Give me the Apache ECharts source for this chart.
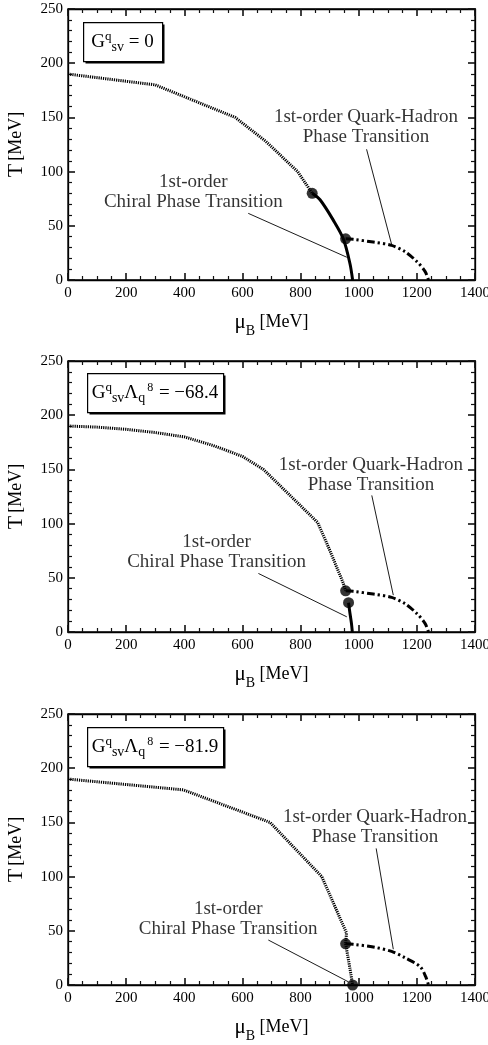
<!DOCTYPE html>
<html>
<head>
<meta charset="utf-8">
<script src="https://cdn.jsdelivr.net/npm/echarts@6/dist/echarts.min.js"></script>
<style>
  html, body { margin: 0; padding: 0; background: #fff; }
  #chart { width: 488px; height: 1045px; background: #fff; }
</style>
</head>
<body>
<div id="chart"></div>
<script>
// Axis ranges and tick steps
const muRange = [0, 1400];
const muStep = 200;
const muMinorSplit = 4;
const tRange = [0, 250];
const tStep = 50;
const tMinorSplit = 5;

// Panel 1: G_sv = 0
const p1Crossover = [[0,190],[300,180],[575,150],[680,128],[790,100],[840,80]];
const p1Chiral = [[840,80],[867,74],[913,55],[947,38],[970,15],[979,0]];
const p1ChiralCrossover = [];
const p1QuarkHadron = [[955,38],[981,37.5],[1050,35],[1113,32],[1160,26],[1200,17],[1228,8],[1240,0]];
const p1Points = [[840,80],[955,38]];

// Panel 2: G_sv Λ^8 = -68.4
const p2Crossover = [[0,190],[100,189],[200,187],[300,184],[400,180],[500,172],[600,162],[672,150],[760,127],[859,101],[901,75],[947,45],[955,38]];
const p2Chiral = [[965,27],[970,17],[975,8],[978,0]];
const p2ChiralCrossover = [];
const p2QuarkHadron = [[955,38],[981,37.5],[1050,35],[1113,32],[1160,26],[1200,17],[1228,8],[1240,0]];
const p2Points = [[955,38],[965,27]];

// Panel 3: G_sv Λ^8 = -81.9
const p3Crossover = [[0,190],[397,180],[695,150],[873,100],[958,48],[955,38]];
const p3Chiral = [];
const p3ChiralCrossover = [[955,38],[970,15],[979,0]];
const p3QuarkHadron = [[955,38],[981,37.5],[1050,35],[1113,31],[1160,25],[1211,17],[1230,8],[1240,0]];
const p3Points = [[955,38],[979,0]];

// Annotation anchors (text centre, arrow start, arrow end) in data units
const qhLabelPos = [[1025,141],[1042,145],[1056,145.5]];
const qhArrows = [[[1027,120.6],[1113,33]], [[1045,126],[1119,34]], [[1060,126],[1119,33]]];
const chiralLabelPos = [[431,81],[511,73.4],[551,60.9]];
const chiralArrows = [[[620,61.5],[959,21]], [[655,54],[959,14]], [[689,41.5],[964,3]]];

// Coupling labels (rich text markup)
const couplingLabels = [
  '{g|G}{sup|q}{sub|sv}{g| = 0}',
  '{g|G}{sup|q}{sub|sv}{g|Λ}{sub|q}{sup2|8}{g| = −68.4}',
  '{g|G}{sup|q}{sub|sv}{g|Λ}{sub|q}{sup2|8}{g| = −81.9}'
];

const panels = [
  { cross: p1Crossover, chiral: p1Chiral, chiralX: p1ChiralCrossover, qh: p1QuarkHadron, pts: p1Points },
  { cross: p2Crossover, chiral: p2Chiral, chiralX: p2ChiralCrossover, qh: p2QuarkHadron, pts: p2Points },
  { cross: p3Crossover, chiral: p3Chiral, chiralX: p3ChiralCrossover, qh: p3QuarkHadron, pts: p3Points }
];

const FONT = "'Liberation Serif', 'Times New Roman', serif";
const INK = '#000';
const gridTops = [9, 361, 714];
const GRID_LEFT = 68, GRID_W = 407, GRID_H = 271;

// fresh axis object with inward major and minor ticks
function frameAxis(position, gridIndex, range, step, minorSplit, extra) {
  return Object.assign({
    type: 'value', gridIndex: gridIndex, position: position,
    min: range[0], max: range[1], interval: step,
    axisLine: { show: true, onZero: false, lineStyle: { color: INK, width: 1.3 } },
    axisTick: { show: true, inside: true, length: 7, lineStyle: { color: '#111', width: 1.6 } },
    minorTick: { show: true, splitNumber: minorSplit, length: 4, lineStyle: { color: '#111', width: 1.2 } },
    splitLine: { show: false },
    axisLabel: { show: false }
  }, extra || {});
}

const chart = echarts.init(document.getElementById('chart'));

const grids = [], xAxes = [], yAxes = [], series = [], graphics = [];

panels.forEach((p, i) => {
  grids.push({ left: GRID_LEFT, top: gridTops[i], width: GRID_W, height: GRID_H, show: true,
    outerBoundsMode: 'none', borderColor: INK, borderWidth: 1.3 });

  xAxes.push(frameAxis('bottom', i, muRange, muStep, muMinorSplit, {
    axisLabel: { show: true, color: INK, fontFamily: FONT, fontSize: 15, margin: 6,
      formatter: function (v) { return String(v); } },
    name: '{m|μ}{s|B}{n| [MeV]}', nameLocation: 'middle', nameGap: 30,
    nameTextStyle: { color: INK, fontFamily: FONT,
      rich: {
        m: { fontFamily: FONT, fontSize: 21, color: INK, lineHeight: 24 },
        s: { fontFamily: FONT, fontSize: 14, color: INK, verticalAlign: 'bottom', lineHeight: 14, padding: [0,0,-4,0] },
        n: { fontFamily: FONT, fontSize: 18, color: INK, lineHeight: 24 }
      } }
  }));
  xAxes.push(frameAxis('top', i, muRange, muStep, muMinorSplit));

  yAxes.push(frameAxis('left', i, tRange, tStep, tMinorSplit, {
    axisLabel: { show: true, color: INK, fontFamily: FONT, fontSize: 15, margin: 5 },
    name: '{t|T} {n|[MeV]}', nameLocation: 'middle', nameGap: 41,
    nameTextStyle: { color: INK, fontFamily: FONT,
      rich: {
        t: { fontFamily: FONT, fontSize: 22, color: INK },
        n: { fontFamily: FONT, fontSize: 18, color: INK }
      } }
  }));
  yAxes.push(frameAxis('right', i, tRange, tStep, tMinorSplit));

  const xi = i * 2, yi = i * 2;
  const lineBase = { type: 'line', xAxisIndex: xi, yAxisIndex: yi, symbol: 'none', silent: true };

  series.push(Object.assign({}, lineBase, {
    data: p.cross, lineStyle: { color: INK, width: 3, type: [1.2, 1] }
  }));
  if (p.chiralX.length) {
    series.push(Object.assign({}, lineBase, {
      data: p.chiralX, lineStyle: { color: INK, width: 3, type: [1.2, 1] }
    }));
  }
  if (p.chiral.length) {
    series.push(Object.assign({}, lineBase, {
      data: p.chiral, smooth: 0.3, lineStyle: { color: INK, width: 3, type: 'solid' }
    }));
  }
  series.push(Object.assign({}, lineBase, {
    data: p.qh, smooth: 0.3, lineStyle: { color: INK, width: 3, type: [8, 3, 2.2, 3, 2.2, 3] }
  }));
  series.push({
    type: 'scatter', xAxisIndex: xi, yAxisIndex: yi, data: p.pts, symbol: 'circle', symbolSize: 11,
    itemStyle: { color: INK }, silent: true, z: 5
  });

  // annotation labels and arrows
  const labelStyle = { show: true, position: 'inside', color: INK, fontFamily: FONT, fontSize: 19, lineHeight: 20, align: 'center', verticalAlign: 'middle' };
  series.push({
    type: 'scatter', xAxisIndex: xi, yAxisIndex: yi, symbolSize: 0, silent: true, z: 6,
    itemStyle: { color: 'transparent' },
    data: [
      { value: qhLabelPos[i], label: Object.assign({}, labelStyle, { formatter: '1st-order Quark-Hadron\nPhase Transition' }) },
      { value: chiralLabelPos[i], label: Object.assign({}, labelStyle, { formatter: '1st-order\nChiral Phase Transition' }) }
    ],
    markLine: {
      silent: true, symbol: ['none', 'arrow'], symbolSize: [0, 10],
      label: { show: false },
      lineStyle: { color: INK, width: 0.9, type: 'solid' },
      emphasis: { disabled: true },
      data: [
        [{ coord: qhArrows[i][0] }, { coord: qhArrows[i][1] }],
        [{ coord: chiralArrows[i][0] }, { coord: chiralArrows[i][1] }]
      ]
    }
  });
});

// Coupling boxes with drop shadow
const boxRects = [
  { x: 83, y: 22, w: 79, h: 39 },
  { x: 87, y: 373, w: 136, h: 39 },
  { x: 87, y: 727, w: 136, h: 39 }
];
const boxRich = {
  g: { fontFamily: FONT, fontSize: 19, fill: INK, lineHeight: 24 },
  sup: { fontFamily: FONT, fontSize: 13, fill: INK, verticalAlign: 'top', lineHeight: 13 },
  sup2: { fontFamily: FONT, fontSize: 12, fill: INK, verticalAlign: 'top', lineHeight: 12, padding: [0, 1, 0, 2] },
  sub: { fontFamily: FONT, fontSize: 14, fill: INK, verticalAlign: 'bottom', lineHeight: 13 }
};
boxRects.forEach((b, i) => {
  graphics.push({ type: 'rect', left: b.x + 2.5, top: b.y + 2.5, shape: { width: b.w, height: b.h }, style: { fill: INK }, z: 10, silent: true });
  graphics.push({ type: 'rect', left: b.x, top: b.y, shape: { width: b.w, height: b.h }, style: { fill: '#fff', stroke: INK, lineWidth: 1.2 }, z: 11, silent: true });
  graphics.push({ type: 'text', x: b.x + b.w / 2, y: b.y + b.h / 2 + 1, z: 12, silent: true,
    style: { text: couplingLabels[i], rich: boxRich, fill: INK, font: '19px ' + FONT, align: 'center', verticalAlign: 'middle' } });
});

chart.setOption({
  animation: false,
  grid: grids,
  xAxis: xAxes,
  yAxis: yAxes,
  series: series,
  graphic: graphics
});
</script>
</body>
</html>
